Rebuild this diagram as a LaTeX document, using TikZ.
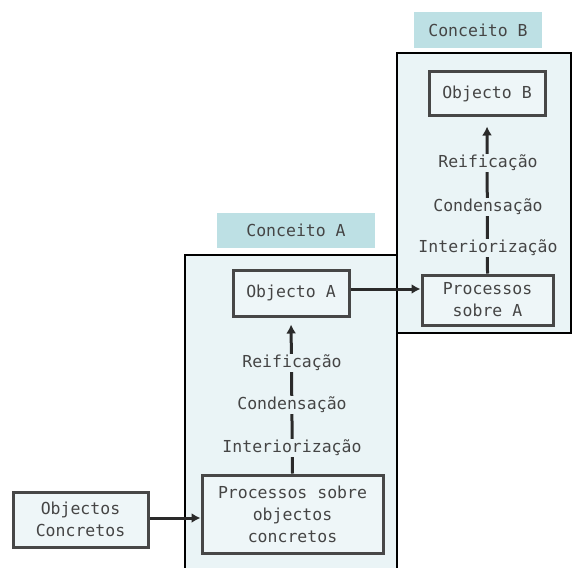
\documentclass[tikz,border=0pt]{standalone}
\usepackage{fontspec}
\setmonofont{DejaVu Sans Mono}
\usetikzlibrary{arrows.meta}
\definecolor{bigfill}{HTML}{EAF4F6}
\definecolor{innerfill}{HTML}{EEF6F8}
\definecolor{titlefill}{HTML}{BDE0E4}
\definecolor{boxline}{HTML}{474747}
\definecolor{txt}{HTML}{454545}
\definecolor{connline}{HTML}{2A2A2A}
\tikzset{
  every node/.style={font=\ttfamily\fontsize{16.5}{22}\selectfont, text=txt},
  titlebox/.style={fill=titlefill, inner sep=0pt},
  bigbox/.style={draw=black, line width=2pt, fill=bigfill, inner sep=0pt},
  innerbox/.style={draw=boxline, line width=3pt, fill=innerfill, inner sep=0pt, align=center},
  lbl/.style={fill=bigfill, inner sep=1pt},
  conn/.style={line width=3pt, draw=connline, -{Latex[length=9pt,width=10pt]}},
}
\begin{document}
\begin{tikzpicture}[x=1pt,y=-1pt]
\useasboundingbox (0,0) rectangle (572,567);
% Concept B
\node[titlebox, minimum width=128pt, minimum height=36pt] (titleB) at (478,30) {Conceito B};
\node[bigbox, minimum width=174pt, minimum height=280pt] (bigB) at (484,193) {};
\node[innerbox, minimum width=116pt, minimum height=43pt] (objB) at (487,93.5) {Objecto B};
\node[innerbox, minimum width=131pt, minimum height=50pt] (procB) at (487.5,300) {Processos\\sobre A};
% Concept A
\node[titlebox, minimum width=158pt, minimum height=35pt] (titleA) at (296,230.5) {Conceito A};
\node[bigbox, minimum width=212pt, minimum height=320pt] (bigA) at (291,415) {};
\node[innerbox, minimum width=116pt, minimum height=46pt] (objA) at (291,293) {Objecto A};
\node[innerbox, minimum width=181pt, minimum height=78pt] (procA) at (292.5,514) {Processos sobre\\objectos\\concretos};
% Objectos concretos
\node[innerbox, minimum width=135pt, minimum height=55pt] (conc) at (80.5,519.5) {Objectos\\Concretos};
% vertical arrows
\draw[conn, shorten >=10pt] (procB.north) -- (objB.south);
\draw[conn, shorten >=7pt] (procA.north) -- (objA.south);
% labels B
\node[lbl] (reifB) at (488,163) {Reificação};
\node[lbl] (condB) at (488,207) {Condensação};
\node[lbl] (intB) at (488,248) {Interiorização};
% labels A
\node[lbl] (reifA) at (292,363) {Reificação};
\node[lbl] (condA) at (292,405) {Condensação};
\node[lbl] (intA) at (292,448) {Interiorização};
% horizontal arrows
\draw[conn] (objA.east |- 0,289) -- (procB.west |- 0,289);
\draw[conn] (conc.east |- 0,518) -- (procA.west |- 0,518);
\end{tikzpicture}
\end{document}
